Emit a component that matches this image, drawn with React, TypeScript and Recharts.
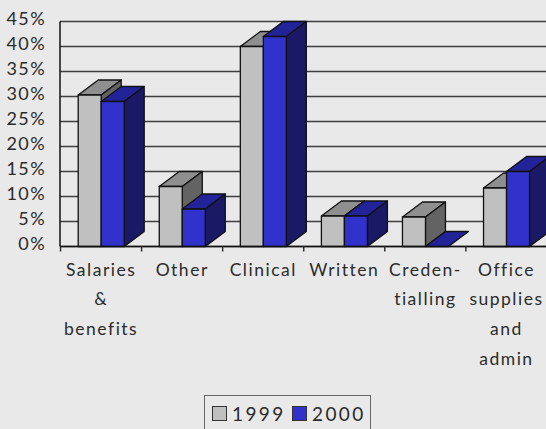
import { BarChart, Bar, XAxis, YAxis, CartesianGrid, Legend } from 'recharts'

const categories = ['Salaries|&|benefits', 'Other', 'Clinical', 'Written', 'Creden-|tialling', 'Office|supplies|and|admin']
const values1999 = [30.3, 12, 40, 6.1, 5.9, 11.7]
const values2000 = [29, 7.5, 42, 6.1, 0, 15]
const yTicks = [0, 5, 10, 15, 20, 25, 30, 35, 40, 45]

const data = categories.map((c, i) => ({ name: c, y1999: values1999[i], y2000: values2000[i] }))

const FONT = 'Lato, "Open Sans", sans-serif'
const BG = '#e9e9e9'
const INK = '#2b2b2b'
const DX = 20
const DY = 15
const BAND = 81.2

// front face plus top and side, so the bars look like the old 3D office charts
function Bar3D(props: any) {
  const { x, y, width, height, front, top, side } = props
  const edge = { stroke: '#111', strokeWidth: 1.3, strokeLinejoin: 'round' as const }
  if (x == null) return null
  return (
    <g>
      <path d={`M${x} ${y}l${DX} ${-DY}h${width}l${-DX} ${DY}z`} fill={top} {...edge} />
      {height > 0 && (
        <path d={`M${x + width} ${y}l${DX} ${-DY}v${height}l${-DX} ${DY}z`} fill={side} {...edge} />
      )}
      {height > 0 && <rect x={x} y={y} width={width} height={height} fill={front} {...edge} />}
    </g>
  )
}

function CategoryTick({ x, y, payload }: any) {
  const lines = String(payload.value).split('|')
  return (
    <g>
      <line x1={x - BAND / 2} x2={x - BAND / 2} y1={y - 8} y2={y - 3} stroke="#333" strokeWidth={1.5} />
      <text x={x} y={y} textAnchor="middle" fontFamily={FONT} fontSize={17.5} letterSpacing={1.5} fill={INK}>
        {lines.map((l, i) => (
          <tspan key={i} x={x} y={y + 21 + i * 29.7}>{l}</tspan>
        ))}
      </text>
    </g>
  )
}

function PercentTick({ x, y, payload }: any) {
  return (
    <text x={x + 1} y={y + 3.5} textAnchor="end" fontFamily={FONT} fontSize={18} letterSpacing={1.4} fill={INK}>
      {payload.value}%
    </text>
  )
}

function LegendBox() {
  const swatch = (fill: string) => (
    <span style={{ display: 'block', width: 15, height: 15, background: fill, border: '1.5px solid #333', boxSizing: 'border-box' }} />
  )
  return (
    <div style={{ position: 'absolute', left: 204, top: 395, width: 167, height: 50, boxSizing: 'border-box', border: '1.5px solid #666', fontFamily: FONT, fontSize: 19, letterSpacing: 2.4, color: INK }}>
      <div style={{ position: 'absolute', left: 7, top: 10 }}>{swatch('#c0c0c0')}</div>
      <div style={{ position: 'absolute', left: 27, top: 6 }}>1999</div>
      <div style={{ position: 'absolute', left: 87, top: 10 }}>{swatch('#3131cc')}</div>
      <div style={{ position: 'absolute', left: 107, top: 6 }}>2000</div>
    </div>
  )
}

export default function App() {
  return (
    <div style={{ position: 'absolute', left: 0, top: 0, width: 546, height: 429, background: BG, overflow: 'hidden' }}>
      <BarChart
        width={546}
        height={429}
        data={data}
        margin={{ top: 21.5, right: -1, bottom: 0, left: 0 }}
        barCategoryGap={17.6}
        barGap={0}
      >
        <CartesianGrid vertical={false} stroke="#222" strokeWidth={1.4} strokeOpacity={0.85} />
        <XAxis
          dataKey="name"
          interval={0}
          height={182.5}
          padding={{ left: 0.6, right: 0 }}
          stroke="#111"
          strokeWidth={1.5}
          tickLine={false}
          tick={<CategoryTick />}
        />
        <YAxis
          domain={[0, 45]}
          ticks={yTicks}
          interval={0}
          width={60}
          stroke="#111"
          strokeWidth={1.5}
          tickLine={false}
          tickMargin={9}
          tick={<PercentTick />}
        />
        <Legend content={<LegendBox />} wrapperStyle={{ position: 'static' }} />
        <Bar dataKey="y1999" name="1999" isAnimationActive={false}
          shape={(p: any) => <Bar3D {...p} front="#c0c0c0" top="#8f8f8f" side="#636363" />} />
        <Bar dataKey="y2000" name="2000" isAnimationActive={false}
          shape={(p: any) => <Bar3D {...p} front="#3131cc" top="#232399" side="#191966" />} />
      </BarChart>
    </div>
  )
}
